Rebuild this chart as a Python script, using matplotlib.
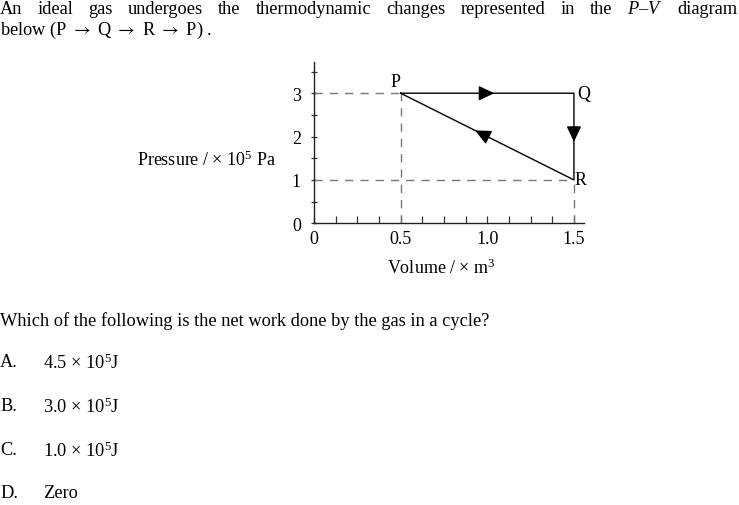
import matplotlib
matplotlib.use("Agg")
import matplotlib.pyplot as plt
import numpy as np

plt.rcParams['font.family'] = ['Liberation Serif', 'DejaVu Serif']
plt.rcParams['mathtext.fontset'] = 'custom'
plt.rcParams['mathtext.rm'] = 'Liberation Serif'
plt.rcParams['mathtext.it'] = 'Liberation Serif:italic'
plt.rcParams['mathtext.fallback'] = 'stix'

# Data
point_names = ["P", "Q", "R"]
volumes = [0.5, 1.5, 1.5]        # m^3
pressures = [3.0, 3.0, 1.0]      # x10^5 Pa
x_ticks = [0, 0.5, 1.0, 1.5]
x_tick_labels = ["0", "0.5", "1.0", "1.5"]
y_ticks = [0, 1, 2, 3]
y_tick_labels = ["0", "1", "2", "3"]
options = ["A.", "B.", "C.", "D."]
option_texts = [r"4.5 × 10$^{5}$J", r"3.0 × 10$^{5}$J", r"1.0 × 10$^{5}$J", "Zero"]

W, H = 739, 506
fig = plt.figure(figsize=(W / 100, H / 100), dpi=100)

def fx(px):
    return px / W

def fy(py):
    return 1 - py / H

# axes placement
x0, x1 = 314, 584
y0, y1 = 224.3, 63
ax = fig.add_axes([fx(x0), fy(y0), (x1 - x0) / W, (y0 - y1) / H])
ax.set_xlim(0, 1.558)
ax.set_ylim(0, 3.72)
for s in ["top", "right"]:
    ax.spines[s].set_visible(False)
for s in ["left", "bottom"]:
    ax.spines[s].set_color("#222222")
    ax.spines[s].set_linewidth(1.0)

ax.set_xticks(x_ticks)
ax.set_xticklabels(x_tick_labels)
ax.set_yticks(y_ticks)
ax.set_yticklabels(y_tick_labels)
ax.set_xticks(np.arange(0, 1.56, 0.125), minor=True)
ax.set_yticks(np.arange(0, 3.6, 0.5), minor=True)
ax.tick_params(axis='both', which='both', direction='inout', length=5, width=0.9,
               color="#333333", labelsize=13)
ax.tick_params(axis='y', which='major', pad=7)
ax.tick_params(axis='x', which='both', direction='in', length=5, pad=5)
ax.set_facecolor('none')

dash = dict(color="#777777", lw=1.0, dashes=(6, 5))
P = (volumes[0], pressures[0])
Q = (volumes[1], pressures[1])
R = (volumes[2], pressures[2])
# guide lines
ax.plot([0, P[0]], [P[1], P[1]], **dash)
ax.plot([P[0], P[0]], [0, P[1]], **dash)
ax.plot([0, R[0]], [R[1], R[1]], **dash)
ax.plot([R[0], R[0]], [0, R[1]], **dash)

# cycle
ax.plot([P[0], Q[0], R[0], P[0]], [P[1], Q[1], R[1], P[1]], color="black", lw=1.0,
        solid_joinstyle='miter')

# direction arrows at midpoints
def arrow(a, b, frac=0.5):
    a = np.array(a); b = np.array(b)
    m = a + (b - a) * frac
    d = (b - a)
    tip = m + d * 0.04
    base = m - d * 0.04
    ax.annotate('', xy=tip, xytext=base,
                arrowprops=dict(arrowstyle='-|>,head_length=0.95,head_width=0.45',
                                color='black', lw=1.0, shrinkA=0, shrinkB=0))

arrow(P, Q, 0.5)
arrow(Q, R, 0.52)
arrow(R, P, 0.53)

ax.text(P[0], P[1] + 0.08, point_names[0], ha='right', va='bottom', fontsize=13)
ax.text(Q[0] + 0.02, Q[1], point_names[1], ha='left', va='center', fontsize=13)
ax.text(R[0] + 0.005, R[1], point_names[2], ha='left', va='center', fontsize=13)

fig.text(fx(206), fy(160), r"Pressure / × 10$^{5}$ Pa", ha='center', va='center', fontsize=13)
fig.text(fx(441), fy(268), r"Volume / × m$^{3}$", ha='center', va='center', fontsize=13)

# Question text
fs = 13.2
words = ["An", "ideal", "gas", "undergoes", "the", "thermodynamic", "changes",
         "represented", "in", "the", "$P$–$V$", "diagram"]
renderer = fig.canvas.get_renderer()
objs = [fig.text(0, fy(10), w, ha='left', va='center', fontsize=fs) for w in words]
widths = [o.get_window_extent(renderer).width for o in objs]
gap = (W - 1 - sum(widths)) / (len(words) - 1)
xpos = 0
for o, wdt in zip(objs, widths):
    o.set_x(fx(xpos))
    xpos += wdt + gap

fig.text(0, fy(30), r"below (P $\rightarrow$ Q $\rightarrow$ R $\rightarrow$ P) .",
         ha='left', va='center', fontsize=fs, math_fontfamily='stix')
fig.text(0, fy(321), "Which of the following is the net work done by the gas in a cycle?",
         ha='left', va='center', fontsize=fs)
opt_y = [363, 407, 451, 494]
for lab, txt, yy in zip(options, option_texts, opt_y):
    fig.text(0, fy(yy), lab, ha='left', va='center', fontsize=fs)
    fig.text(fx(43), fy(yy), txt, ha='left', va='center', fontsize=fs)

fig.savefig("out.png", dpi=100, facecolor='white')
